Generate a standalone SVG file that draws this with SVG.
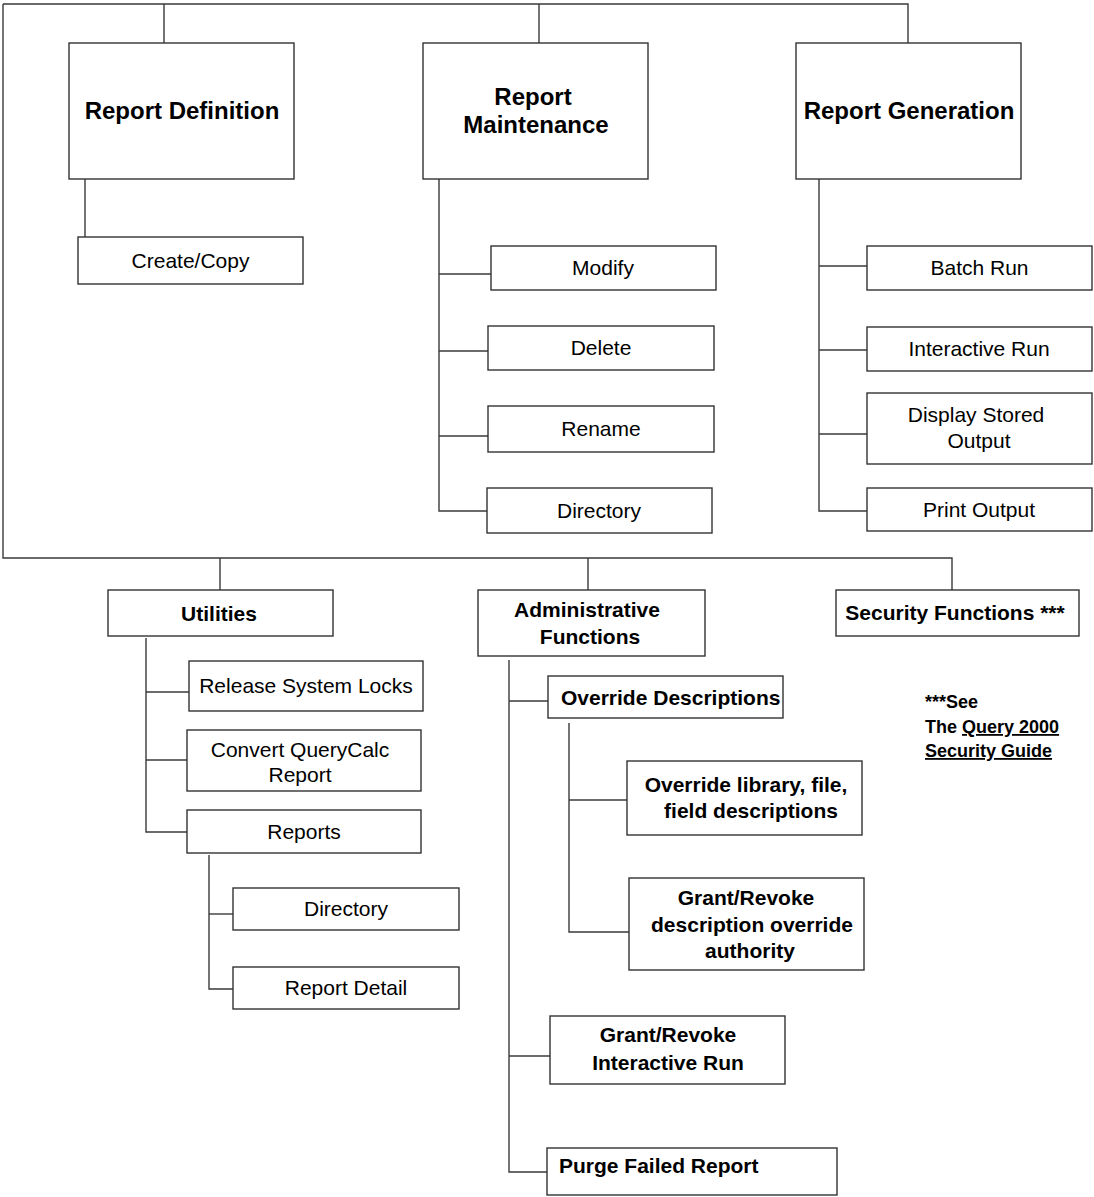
<svg xmlns="http://www.w3.org/2000/svg" width="1094" height="1197" viewBox="0 0 1094 1197">
<style>
  .box { fill: #ffffff; stroke: #333333; stroke-width: 1.4; }
  .conn { fill: none; stroke: #3a3a3a; stroke-width: 1.4; }
  text { font-family: "Liberation Sans", Arial, sans-serif; fill: #000000; }
  .title { font-size: 24px; font-weight: bold; text-anchor: middle; }
  .lbl { font-size: 21px; text-anchor: middle; }
  .blbl { font-size: 21px; font-weight: bold; text-anchor: middle; }
  .note { font-size: 18px; font-weight: bold; }
</style>
<rect width="1094" height="1197" fill="#ffffff"/>
<g id="connectors">
  <path class="conn" d="M3,4 H908 V43"/>
  <path class="conn" d="M164,4 V43"/>
  <path class="conn" d="M539,4 V43"/>
  <path class="conn" d="M3,4 V558 H952 V590"/>
  <path class="conn" d="M220,558 V590"/>
  <path class="conn" d="M588,558 V590"/>
  <path class="conn" d="M85,179 V237"/>
  <path class="conn" d="M439,179 V511 H487"/>
  <path class="conn" d="M439,274 H491"/>
  <path class="conn" d="M439,351 H488"/>
  <path class="conn" d="M439,436 H488"/>
  <path class="conn" d="M819,179 V511 H867"/>
  <path class="conn" d="M819,266 H867"/>
  <path class="conn" d="M819,350 H867"/>
  <path class="conn" d="M819,434 H867"/>
  <path class="conn" d="M146,638 V832 H187"/>
  <path class="conn" d="M146,692 H189"/>
  <path class="conn" d="M146,760 H187"/>
  <path class="conn" d="M209,855 V989 H233"/>
  <path class="conn" d="M209,914 H233"/>
  <path class="conn" d="M509,660 V1172 H547"/>
  <path class="conn" d="M509,701 H548"/>
  <path class="conn" d="M509,1056 H550"/>
  <path class="conn" d="M569,723 V932 H629"/>
  <path class="conn" d="M569,800 H627"/>
</g>
<g id="report-definition">
  <rect class="box" x="69" y="43" width="225" height="136"/>
  <text class="title" x="182" y="119">Report Definition</text>
</g>
<g id="report-maintenance">
  <rect class="box" x="423" y="43" width="225" height="136"/>
  <text class="title" x="533" y="105">Report</text>
  <text class="title" x="536" y="133">Maintenance</text>
</g>
<g id="report-generation">
  <rect class="box" x="796" y="43" width="225" height="136"/>
  <text class="title" x="909" y="119">Report Generation</text>
</g>
<g id="create-copy">
  <rect class="box" x="78" y="237" width="225" height="47"/>
  <text class="lbl" x="190.5" y="268">Create/Copy</text>
</g>
<g id="modify">
  <rect class="box" x="491" y="246" width="225" height="44"/>
  <text class="lbl" x="603" y="275">Modify</text>
</g>
<g id="delete">
  <rect class="box" x="488" y="326" width="226" height="44"/>
  <text class="lbl" x="601" y="355">Delete</text>
</g>
<g id="rename">
  <rect class="box" x="488" y="406" width="226" height="46"/>
  <text class="lbl" x="601" y="436">Rename</text>
</g>
<g id="rm-directory">
  <rect class="box" x="487" y="488" width="225" height="45"/>
  <text class="lbl" x="599" y="518">Directory</text>
</g>
<g id="batch-run">
  <rect class="box" x="867" y="246" width="225" height="44"/>
  <text class="lbl" x="979.5" y="275">Batch Run</text>
</g>
<g id="interactive-run">
  <rect class="box" x="867" y="327" width="225" height="44"/>
  <text class="lbl" x="979" y="356">Interactive Run</text>
</g>
<g id="display-stored-output">
  <rect class="box" x="867" y="393" width="225" height="71"/>
  <text class="lbl" x="976" y="422">Display Stored</text>
  <text class="lbl" x="979" y="448">Output</text>
</g>
<g id="print-output">
  <rect class="box" x="867" y="488" width="225" height="43"/>
  <text class="lbl" x="979" y="517">Print Output</text>
</g>
<g id="utilities">
  <rect class="box" x="108" y="590" width="225" height="46"/>
  <text class="blbl" x="219" y="621">Utilities</text>
</g>
<g id="administrative-functions">
  <rect class="box" x="478" y="590" width="227" height="66"/>
  <text class="blbl" x="587" y="617">Administrative</text>
  <text class="blbl" x="590" y="644">Functions</text>
</g>
<g id="security-functions">
  <rect class="box" x="836" y="590" width="243" height="46"/>
  <text class="blbl" x="955" y="620">Security Functions ***</text>
</g>
<g id="release-system-locks">
  <rect class="box" x="189" y="661" width="234" height="50"/>
  <text class="lbl" x="306" y="693">Release System Locks</text>
</g>
<g id="convert-querycalc">
  <rect class="box" x="187" y="730" width="234" height="61"/>
  <text class="lbl" x="300" y="757">Convert QueryCalc</text>
  <text class="lbl" x="300" y="782">Report</text>
</g>
<g id="reports">
  <rect class="box" x="187" y="810" width="234" height="43"/>
  <text class="lbl" x="304" y="839">Reports</text>
</g>
<g id="util-directory">
  <rect class="box" x="233" y="888" width="226" height="42"/>
  <text class="lbl" x="346" y="916">Directory</text>
</g>
<g id="report-detail">
  <rect class="box" x="233" y="967" width="226" height="42"/>
  <text class="lbl" x="346" y="995">Report Detail</text>
</g>
<g id="override-descriptions">
  <rect class="box" x="548" y="676" width="235" height="42"/>
  <text class="blbl" x="561" y="705" style="text-anchor:start">Override Descriptions</text>
</g>
<g id="override-library">
  <rect class="box" x="627" y="761" width="235" height="74"/>
  <text class="blbl" x="746" y="792">Override library, file,</text>
  <text class="blbl" x="751" y="818">field descriptions</text>
</g>
<g id="grant-revoke-description">
  <rect class="box" x="629" y="878" width="235" height="92"/>
  <text class="blbl" x="746" y="905">Grant/Revoke</text>
  <text class="blbl" x="752" y="932">description override</text>
  <text class="blbl" x="750" y="958">authority</text>
</g>
<g id="grant-revoke-interactive">
  <rect class="box" x="550" y="1016" width="235" height="68"/>
  <text class="blbl" x="668" y="1042">Grant/Revoke</text>
  <text class="blbl" x="668" y="1070">Interactive Run</text>
</g>
<g id="purge-failed-report">
  <rect class="box" x="547" y="1148" width="290" height="47"/>
  <text class="blbl" x="559" y="1173" style="text-anchor:start">Purge Failed Report</text>
</g>
<g id="security-note">
  <text class="note" x="925" y="708">***See</text>
  <text class="note" x="925" y="733">The <tspan text-decoration="underline">Query 2000</tspan></text>
  <text class="note" x="925" y="757" text-decoration="underline">Security Guide</text>
</g>
</svg>
